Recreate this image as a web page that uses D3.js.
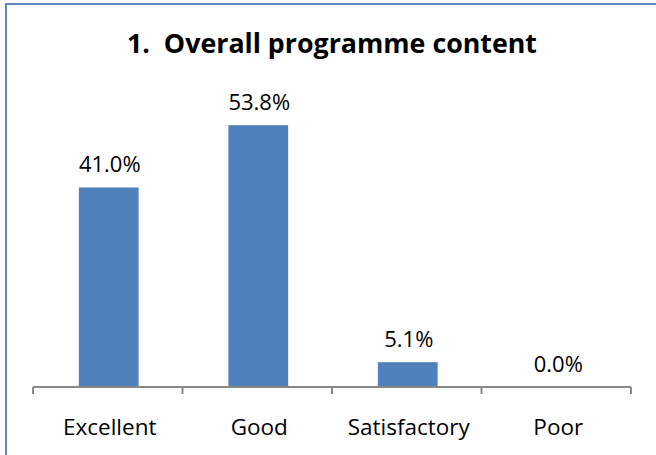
<!DOCTYPE html>
<html>
<head>
  <meta charset="utf-8">
  <title>Overall programme content</title>
  <script src="https://d3js.org/d3.v7.min.js"></script>
  <style>
    body { margin: 0; background: #fff; }
    text { font-family: "Open Sans", "Liberation Sans", Arial, sans-serif; fill: #000; }
    .title { font-weight: bold; white-space: pre; }
  </style>
</head>
<body>
<div id="chart"></div>
<script>
  // Chart data.
  const categories = ["Excellent", "Good", "Satisfactory", "Poor"];
  const percents = [41.0, 53.8, 5.1, 0.0];
  const titleText = "1.  Overall programme content";

  const width = 656, height = 455;
  const plot = {left: 33, right: 631, top: 95, bottom: 387};

  const svg = d3.select("#chart").append("svg")
    .attr("width", width)
    .attr("height", height);

  // Chart frame (only top and left edges are visible in the crop).
  svg.append("rect")
    .attr("x", 6).attr("y", 4)
    .attr("width", 700).attr("height", 500)
    .attr("fill", "none")
    .attr("stroke", "#5b89c6")
    .attr("stroke-width", 2);

  const x = d3.scaleBand()
    .domain(categories)
    .range([plot.left, plot.right])
    .padding(0);

  const y = d3.scaleLinear()
    .domain([0, 60])
    .range([plot.bottom, plot.top]);

  const barWidth = x.bandwidth() * 0.4;

  // Title
  svg.append("text")
    .attr("class", "title")
    .attr("x", (plot.left + plot.right) / 2)
    .attr("y", 53)
    .attr("text-anchor", "middle")
    .attr("textLength", 410)
    .attr("lengthAdjust", "spacingAndGlyphs")
    .style("font-size", "26px")
    .text(titleText);

  // Bars
  svg.selectAll(".bar")
    .data(percents)
    .enter().append("rect")
    .attr("class", "bar")
    .attr("x", (d, i) => x(categories[i]) + x.bandwidth() / 2 - barWidth / 2 + 1)
    .attr("y", d => y(d))
    .attr("width", barWidth)
    .attr("height", d => y(0) - y(d))
    .attr("fill", "#4f81bd");

  // Value labels
  svg.selectAll(".val")
    .data(percents)
    .enter().append("text")
    .attr("class", "val")
    .attr("x", (d, i) => x(categories[i]) + x.bandwidth() / 2 + 2)
    .attr("y", d => y(d) - 15)
    .attr("text-anchor", "middle")
    .style("font-size", "22px")
    .text(d => d.toFixed(1) + "%");

  // Category axis: line plus tick marks between categories
  const axis = svg.append("g").attr("class", "axis");
  axis.append("line")
    .attr("x1", plot.left).attr("x2", plot.right)
    .attr("y1", y(0)).attr("y2", y(0))
    .attr("stroke", "#888").attr("stroke-width", 2);

  const tickPos = categories.map(c => x(c)).concat([x.range()[1]]);
  axis.selectAll(".tick")
    .data(tickPos)
    .enter().append("line")
    .attr("class", "tick")
    .attr("x1", d => d).attr("x2", d => d)
    .attr("y1", y(0)).attr("y2", y(0) + 7)
    .attr("stroke", "#888").attr("stroke-width", 2);

  axis.selectAll(".cat")
    .data(categories)
    .enter().append("text")
    .attr("class", "cat")
    .attr("x", d => x(d) + x.bandwidth() / 2 + 2)
    .attr("y", 435)
    .attr("text-anchor", "middle")
    .style("font-size", "22.5px")
    .text(d => d);
</script>
</body>
</html>
